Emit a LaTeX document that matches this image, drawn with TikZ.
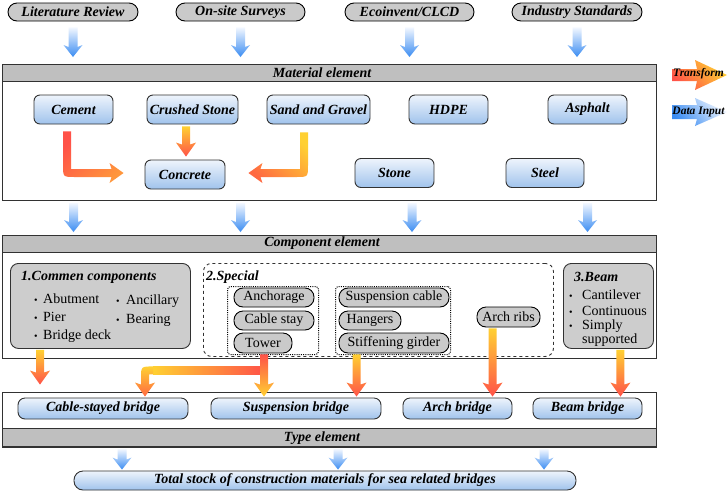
\documentclass[tikz,border=0pt]{standalone}
\usepackage{fontspec}
\setmainfont{Liberation Serif}
\usetikzlibrary{calc}

\definecolor{hdrgray}{RGB}{191,191,191}
\definecolor{pillgray}{RGB}{202,202,202}
\definecolor{boxgray}{RGB}{205,205,205}
\definecolor{edge}{RGB}{50,50,50}
\definecolor{bluetop}{RGB}{238,244,252}
\definecolor{bluebot}{RGB}{160,195,236}
\definecolor{arrowblue}{RGB}{58,140,242}
\definecolor{arrowpale}{RGB}{242,247,255}
\definecolor{ored}{RGB}{255,82,72}
\definecolor{ored2}{RGB}{255,105,65}
\definecolor{oorange}{RGB}{255,150,60}
\definecolor{oyellow}{RGB}{255,208,50}

% vertical block arrow: #1 shading, #2 start (gives x and top), #3 tip (gives y), #4 shaft half, #5 head half, #6 head length
\newcommand\blockdown[6]{%
  \shade[#1] let \p1=(#2), \p2=(#3) in
  (\x1-#4,\y1) -- (\x1+#4,\y1) -- (\x1+#4,\y2+#6) -- (\x1+#5,\y2+#6+2pt) -- (\x1,\y2)
  -- (\x1-#5,\y2+#6+2pt) -- (\x1-#4,\y2+#6) -- cycle;}
\newcommand\bitem[2]{\makebox[#1][l]{\fontsize{10}{10}\selectfont\textbullet}#2}

\tikzset{
  every node/.style={font=\fontsize{14}{16}\selectfont},
  bi/.style={font=\fontsize{14}{16}\selectfont\bfseries\itshape},
  container/.style={draw=edge, line width=1.1pt, inner sep=0pt},
  hdr/.style={draw=edge, line width=1.1pt, fill=hdrgray, inner sep=0pt},
  srcpill/.style={draw=black, line width=0.9pt, fill=pillgray, rounded corners=9pt, inner sep=0pt, minimum height=18pt, bi},
  bluebox/.style={draw=edge, line width=0.9pt, rounded corners=6pt, top color=bluetop, bottom color=bluebot, inner sep=0pt, minimum height=29pt, bi},
  bridgebox/.style={draw=edge, line width=0.9pt, rounded corners=7pt, top color=bluetop, bottom color=bluebot, inner sep=0pt, minimum height=21pt, bi},
  gpill/.style={draw=black, line width=0.9pt, fill=pillgray, rounded corners=9pt, inner sep=0pt, minimum height=19pt},
  greybox/.style={draw=edge, line width=0.9pt, fill=boxgray, rounded corners=8pt, inner sep=0pt},
  dashbox/.style={draw=edge, line width=0.9pt, dashed, rounded corners=8pt, inner sep=0pt},
  dotbox/.style={draw=black, line width=1pt, dash pattern=on 1pt off 1.2pt, rounded corners=3pt, inner sep=0pt},
  txt/.style={inner sep=0pt, anchor=west},
  bluefill/.style={top color=arrowpale, bottom color=arrowblue},
  yr/.style={top color=oyellow, bottom color=ored},
  ry/.style={top color=ored, bottom color=oyellow}
}

\begin{document}
\begin{tikzpicture}[x=1pt,y=-1pt]
\useasboundingbox (0,0) rectangle (728,491);
\fill[white] (0,0) rectangle (728,491);

% ---------- containers ----------
\node[container, minimum width=654pt, minimum height=136pt, anchor=north west] (matbox) at (2,64) {};
\node[hdr, minimum width=654pt, minimum height=17pt, anchor=north west] (mathead) at (2,64) {};
\node[bi] (matlabel) at (322,72.5) {Material element};

\node[container, minimum width=654pt, minimum height=123pt, anchor=north west] (compbox) at (2,235) {};
\node[hdr, minimum width=654pt, minimum height=17pt, anchor=north west] (comphead) at (2,235) {};
\node[bi] (complabel) at (322,243.5) {Component element};

\node[container, minimum width=654pt, minimum height=55pt, anchor=north west] (typebox) at (2,392) {};
\node[hdr, minimum width=654pt, minimum height=18pt, anchor=south west] (typehead) at (2,447) {};
\node[bi] (typelabel) at (322,438) {Type element};

% ---------- sources ----------
\node[srcpill, minimum width=130pt] (lit) at (73,12) {Literature Review};
\node[srcpill, minimum width=129pt] (onsite) at (240.5,12) {On-site Surveys};
\node[srcpill, minimum width=129pt] (eco) at (409.5,12) {Ecoinvent/CLCD};
\node[srcpill, minimum width=130pt] (ind) at (577,12) {Industry Standards};

% ---------- materials ----------
\node[bluebox, minimum width=79pt] (cement) at (73.5,109.5) {Cement};
\node[bluebox, minimum width=91pt] (crushed) at (192.5,109.5) {Crushed Stone};
\node[bluebox, minimum width=103pt] (sand) at (318.5,109.5) {Sand and Gravel};
\node[bluebox, minimum width=79pt] (hdpe) at (448.5,109.5) {HDPE};
\node[bluebox, minimum width=79pt] (asphalt) at (587.5,109.5) {Asphalt};
\node[bluebox, minimum width=80pt] (concrete) at (185,174.5) {Concrete};
\node[bluebox, minimum width=79pt] (stone) at (394.5,173) {Stone};
\node[bluebox, minimum width=78pt] (steel) at (545,173) {Steel};

% ---------- components ----------
\node[greybox, minimum width=180pt, minimum height=85pt, anchor=north west] (common) at (10,263) {};
\node[bi, txt] (ctitle) at (21,277) {1.Commen components};
\node[txt] (c1) at (34,299) {\bitem{9pt}{Abutment}};
\node[txt] (c2) at (34,317) {\bitem{9pt}{Pier}};
\node[txt] (c3) at (34,336) {\bitem{9pt}{Bridge deck}};
\node[txt] (c4) at (116,301) {\bitem{10pt}{Ancillary}};
\node[txt] (c5) at (116,320) {\bitem{10pt}{Bearing}};

\node[dashbox, minimum width=350pt, minimum height=93pt, anchor=north west] (special) at (203,263) {};
\node[bi, txt] (stitle) at (206,277) {2.Special};
\node[dotbox, minimum width=91pt, minimum height=68pt, anchor=north west] (dotA) at (227,286) {};
\node[dotbox, minimum width=115pt, minimum height=68pt, anchor=north west] (dotB) at (335,286) {};
\node[gpill, minimum width=80pt] (anchorage) at (274,297.5) {Anchorage};
\node[gpill, minimum width=80pt] (cablestay) at (274,320.5) {Cable stay};
\node[gpill, minimum width=58pt, minimum height=20pt] (tower) at (263,343) {Tower};
\node[gpill, minimum width=110pt] (suspcable) at (394,297.5) {Suspension cable};
\node[gpill, minimum width=62pt] (hangers) at (370,320.5) {Hangers};
\node[gpill, minimum width=110pt, minimum height=20pt] (stiff) at (394,343) {Stiffening girder};
\node[gpill, minimum width=63pt, minimum height=20pt] (archribs) at (508.5,317) {Arch ribs};

\node[greybox, minimum width=90pt, minimum height=85pt, anchor=north west] (beambox) at (563,263) {};
\node[bi, txt] (btitle) at (574,277) {3.Beam};
\node[txt] (b1) at (569,295) {\bitem{13pt}{Cantilever}};
\node[txt] (b2) at (569,310.5) {\bitem{13pt}{Continuous}};
\node[txt] (b3) at (569,326) {\bitem{13pt}{Simply}};
\node[txt] (b4) at (582,340.5) {supported};

% ---------- bridges ----------
\node[bridgebox, minimum width=170pt] (cable) at (103,408.5) {Cable-stayed bridge};
\node[bridgebox, minimum width=170pt] (susp) at (296,408.5) {Suspension bridge};
\node[bridgebox, minimum width=109pt] (arch) at (457.5,408.5) {Arch bridge};
\node[bridgebox, minimum width=109pt] (beambr) at (587.5,408.5) {Beam bridge};

\node[bridgebox, minimum width=502pt, minimum height=19pt, rounded corners=9pt] (total) at (325,480.5) {Total stock of construction materials for sea related bridges};

% ---------- blue data arrows ----------
\foreach \s in {lit,onsite,eco,ind}{
  \blockdown{bluefill}{$(\s.south)+(0,6)$}{$(mathead.north)+(0,-7)$}{4.5pt}{9.5pt}{10pt}
}
\coordinate (m1) at (cement.south |- matbox.south);
\coordinate (m2) at (onsite.south |- matbox.south);
\coordinate (m3) at ($(eco.south |- matbox.south)+(2.5,0)$);
\coordinate (m4) at (asphalt.south |- matbox.south);
\foreach \s in {m1,m2,m3,m4}{
  \blockdown{bluefill}{$(\s)+(0,2)$}{$(comphead.north)+(0,-3)$}{4.5pt}{9.5pt}{10pt}
}
\coordinate (t1) at ($(typebox.south west)+(120,1)$);
\coordinate (t2) at ($(typebox.south west)+(336,1)$);
\coordinate (t3) at ($(typebox.south west)+(542,1)$);
\foreach \s in {t1,t2,t3}{
  \blockdown{bluefill}{\s}{$(total.north)+(0,-1)$}{4.5pt}{9.5pt}{10pt}
}

% ---------- transform arrows (materials) ----------
\blockdown{yr}{$(crushed.south)+(-6.5,2)$}{$(concrete.north)+(0,-3)$}{4pt}{10pt}{12pt}
\shade[top color=ored, bottom color=oorange, shading angle=45]
  let \p1=($(cement.south)+(-6.5,7)$), \p2=($(concrete.west)+(-21,-1.5)$) in
  (\x1-4pt,\y1) -- (\x1+4pt,\y1) -- (\x1+4pt,\y2+4pt) -- (\x2-12pt,\y2+4pt) -- (\x2-14pt,\y2+10pt)
  -- (\x2,\y2) -- (\x2-14pt,\y2-10pt) -- (\x2-12pt,\y2-4pt) -- (\x1+8pt,\y2-4pt)
  .. controls (\x1-4pt,\y2-4pt) .. (\x1-4pt,\y2+8pt) -- cycle;
\shade[top color=oyellow, bottom color=ored2, shading angle=-45]
  let \p1=($(sand.south)+(-14.5,8)$), \p2=($(concrete.east)+(23,-1.5)$) in
  (\x1+4pt,\y1) -- (\x1-4pt,\y1) -- (\x1-4pt,\y2+4pt) -- (\x2+12pt,\y2+4pt) -- (\x2+14pt,\y2+10pt)
  -- (\x2,\y2) -- (\x2+14pt,\y2-10pt) -- (\x2+12pt,\y2-4pt) -- (\x1-8pt,\y2-4pt)
  .. controls (\x1+4pt,\y2-4pt) .. (\x1+4pt,\y2+8pt) -- cycle;

% ---------- transform arrows (components -> bridges) ----------
\blockdown{yr}{$(common.south west)+(30,1)$}{$(cable.north)+(0,-13)$}{4pt}{10pt}{12pt}
% branch from tower to cable-stayed bridge
\shade[left color=oyellow, right color=ored]
  let \p1=($(tower.south)+(1,17)$), \p2=($(cable.north)+(42,-1)$) in
  (\x2+8pt,\y1+4pt) rectangle (\x1,\y1-4pt);
\shade[top color=oyellow, bottom color=ored2]
  let \p1=($(tower.south)+(1,17)$), \p2=($(cable.north)+(42,-1)$) in
  (\x2+8pt,\y1+4pt) .. controls (\x2-4pt,\y1+4pt) .. (\x2-4pt,\y1-8pt)
  -- (\x2-4pt,\y2+12pt) -- (\x2-10pt,\y2+14pt) -- (\x2,\y2) -- (\x2+10pt,\y2+14pt)
  -- (\x2+4pt,\y2+12pt) -- (\x2+4pt,\y1-4pt) -- (\x2+8pt,\y1-4pt) -- cycle;
\blockdown{ry}{$(tower.south)+(1,1)$}{$(susp.north)+(0,-1)$}{4pt}{10pt}{12pt}
\blockdown{yr}{$(stiff.south west)+(18,1)$}{$(susp.north)+(0,-1)$}{4pt}{10pt}{12pt}
\blockdown{yr}{$(archribs.south west)+(16,1)$}{$(arch.north)+(0,-1)$}{4pt}{10pt}{12pt}
\blockdown{yr}{$(beambox.south)+(12,1)$}{$(beambr.north)+(0,-1)$}{4pt}{10pt}{12pt}

% ---------- legend ----------
\shade[top color=oyellow, bottom color=ored, shading angle=-50]
  (672,69) -- (697,69) -- (695,60) -- (727,75) -- (695,90) -- (697,81) -- (672,81) -- cycle;
\node[font=\fontsize{11.5}{13}\selectfont\bfseries\itshape] (legT) at (698.5,73.5) {Transform};
\shade[top color=arrowpale, bottom color=arrowblue, shading angle=-50]
  (672,105) -- (697,105) -- (695,98) -- (727,112) -- (695,126) -- (697,119) -- (672,119) -- cycle;
\node[font=\fontsize{11.5}{13}\selectfont\bfseries\itshape] (legD) at (698.5,111.5) {Data Input};
\end{tikzpicture}
\end{document}
